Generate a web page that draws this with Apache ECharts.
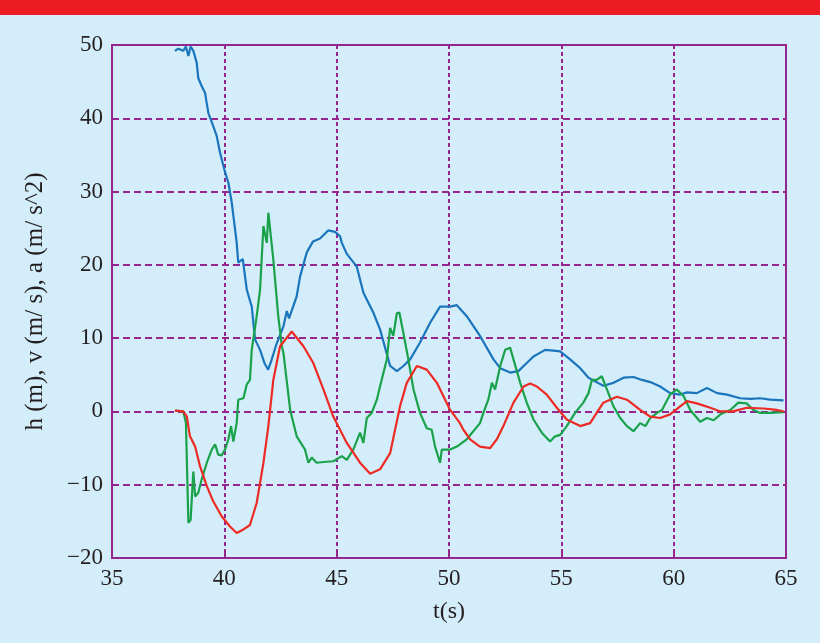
<!DOCTYPE html>
<html>
<head>
<meta charset="utf-8">
<title>h, v, a</title>
<script src="https://cdn.jsdelivr.net/npm/echarts@6/dist/echarts.min.js"></script>
<style>
  html, body { margin: 0; padding: 0; }
  #chart { width: 820px; height: 643px; }
</style>
</head>
<body>
<div id="chart"></div>
<script>
// height h (m)
var hTime = [37.80, 37.95, 38.17, 38.29, 38.40, 38.50, 38.62, 38.77, 38.84, 38.99, 39.14, 39.29, 39.51, 39.66, 39.81, 40.00, 40.18, 40.33, 40.48, 40.55, 40.62, 40.82, 41.00, 41.22, 41.37, 41.59, 41.80, 41.95, 42.10, 42.30, 42.63, 42.78, 42.88, 43.22, 43.37, 43.67, 43.95, 44.26, 44.62, 44.93, 45.15, 45.23, 45.45, 45.89, 46.19, 46.63, 46.93, 47.38, 47.68, 47.97, 48.27, 48.71, 49.16, 49.60, 50.05, 50.35, 50.79, 51.38, 51.98, 52.28, 52.72, 53.09, 53.46, 53.76, 54.28, 54.65, 54.95, 55.39, 55.84, 56.21, 56.50, 56.87, 57.32, 57.77, 58.21, 58.59, 58.96, 59.40, 59.84, 60.29, 60.59, 61.03, 61.48, 61.93, 62.37, 62.96, 63.41, 63.85, 64.30, 64.89]
var hValue = [49.2, 49.5, 49.2, 49.8, 48.5, 49.8, 49.2, 47.6, 45.5, 44.4, 43.5, 40.7, 38.9, 37.6, 35.3, 33.0, 31.2, 28.5, 24.8, 23.0, 20.3, 20.8, 16.6, 14.3, 9.8, 8.4, 6.5, 5.7, 7.0, 9.0, 11.6, 13.7, 12.7, 15.7, 18.4, 21.7, 23.2, 23.6, 24.7, 24.5, 23.9, 23.0, 21.5, 19.8, 16.2, 13.5, 11.2, 6.2, 5.5, 6.2, 7.1, 9.4, 12.1, 14.3, 14.3, 14.5, 13.0, 10.3, 7.1, 5.9, 5.3, 5.5, 6.6, 7.5, 8.4, 8.3, 8.2, 7.1, 5.9, 4.6, 4.1, 3.5, 3.9, 4.6, 4.7, 4.3, 4.0, 3.4, 2.5, 2.3, 2.6, 2.5, 3.2, 2.5, 2.3, 1.8, 1.7, 1.8, 1.6, 1.5]

// velocity v (m/s)
var vTime = [37.80, 38.17, 38.33, 38.47, 38.70, 38.92, 39.22, 39.51, 39.88, 40.25, 40.55, 40.85, 41.14, 41.44, 41.74, 41.96, 42.18, 42.48, 43.00, 43.52, 43.96, 44.41, 44.85, 45.45, 46.04, 46.49, 46.93, 47.38, 47.82, 48.12, 48.57, 49.01, 49.46, 50.05, 50.49, 50.64, 50.94, 51.24, 51.38, 51.83, 52.13, 52.42, 52.87, 53.32, 53.61, 53.91, 54.35, 54.80, 55.24, 55.84, 56.28, 56.87, 57.47, 57.92, 58.51, 58.96, 59.40, 59.84, 60.29, 60.59, 61.03, 61.63, 62.08, 62.64, 63.25, 64.00, 64.59, 64.89]
var vValue = [0.1, 0.0, -0.7, -3.4, -4.8, -7.5, -10.2, -12.3, -14.3, -15.7, -16.6, -16.1, -15.5, -12.5, -7.0, -2.0, 4.3, 8.9, 10.9, 8.9, 6.6, 3.0, -0.7, -4.3, -7.0, -8.5, -7.9, -5.7, 0.7, 3.9, 6.2, 5.7, 3.9, 0.2, -1.6, -2.5, -3.8, -4.5, -4.8, -5.0, -3.8, -2.0, 1.2, 3.4, 3.8, 3.4, 2.3, 0.5, -1.1, -2.0, -1.6, 1.2, 2.0, 1.6, 0.2, -0.7, -0.9, -0.4, 0.7, 1.4, 1.1, 0.5, 0.0, 0.0, 0.5, 0.4, 0.2, 0.0]

// acceleration a (m/s^2)
var aTime = [37.80, 38.17, 38.29, 38.40, 38.50, 38.62, 38.70, 38.84, 38.99, 39.22, 39.44, 39.59, 39.73, 39.88, 40.03, 40.18, 40.30, 40.40, 40.55, 40.62, 40.85, 41.00, 41.14, 41.22, 41.44, 41.59, 41.74, 41.89, 41.96, 42.18, 42.40, 42.56, 42.63, 42.93, 43.22, 43.59, 43.74, 43.89, 44.11, 44.41, 44.85, 45.23, 45.45, 45.74, 46.04, 46.19, 46.34, 46.56, 46.79, 46.93, 47.23, 47.38, 47.52, 47.68, 47.79, 47.97, 48.19, 48.42, 48.71, 49.01, 49.23, 49.38, 49.60, 49.68, 50.05, 50.35, 50.79, 51.38, 51.53, 51.75, 51.91, 52.05, 52.28, 52.50, 52.72, 52.87, 53.17, 53.46, 53.76, 54.13, 54.50, 54.72, 54.95, 55.24, 55.61, 55.98, 56.21, 56.36, 56.58, 56.80, 57.03, 57.32, 57.62, 57.92, 58.21, 58.51, 58.74, 58.96, 59.26, 59.48, 59.84, 60.14, 60.44, 60.74, 61.18, 61.48, 61.78, 62.08, 62.52, 62.88, 63.25, 63.55, 63.85, 64.30, 64.89]
var aValue = [0.1, 0.0, -1.5, -15.2, -14.8, -8.2, -11.6, -11.1, -9.3, -7.0, -5.2, -4.5, -5.9, -6.0, -5.2, -3.8, -2.0, -4.1, -1.6, 1.6, 1.8, 3.7, 4.3, 8.4, 13.0, 16.6, 25.3, 23.0, 27.1, 20.7, 13.0, 8.9, 8.0, 0.2, -3.4, -5.2, -7.0, -6.3, -7.0, -6.9, -6.8, -6.1, -6.6, -5.2, -2.9, -4.3, -0.9, -0.2, 1.6, 3.4, 7.1, 11.4, 10.3, 13.4, 13.5, 10.7, 7.1, 3.0, -0.2, -2.3, -2.5, -4.8, -7.0, -5.2, -5.2, -4.8, -3.8, -1.6, -0.2, 1.6, 3.9, 3.0, 6.2, 8.4, 8.7, 7.1, 3.9, 1.2, -1.1, -2.9, -4.1, -3.4, -3.2, -2.0, -0.2, 1.2, 2.5, 4.3, 4.3, 4.8, 3.0, 0.7, -0.9, -2.0, -2.7, -1.6, -2.0, -0.9, -0.2, 0.2, 2.3, 3.0, 2.1, 0.2, -1.4, -0.9, -1.2, -0.4, 0.2, 1.2, 1.1, 0.2, -0.2, -0.2, -0.1]

var purple = '#93278f'
var textColor = '#231f20'
var serif = '"Liberation Serif", "DejaVu Serif", serif'

function pairs(xs, ys) {
  return xs.map(function (x, i) { return [x, ys[i]] })
}

function lineSeries(name, data, color) {
  return {
    name: name,
    type: 'line',
    data: data,
    showSymbol: false,
    symbol: 'none',
    lineStyle: { color: color, width: 2.2 },
    itemStyle: { color: color },
    animation: false
  }
}

var chart = echarts.init(document.getElementById('chart'))
chart.setOption({
  backgroundColor: '#d3edfa',
  animation: false,
  graphic: [{
    type: 'rect',
    left: 0,
    top: 0,
    shape: { width: 820, height: 15 },
    style: { fill: '#ed1c24' }
  }],
  grid: {
    left: 112,
    top: 45,
    right: 34,
    bottom: 85,
    show: true,
    borderColor: purple,
    borderWidth: 2,
    backgroundColor: 'transparent'
  },
  xAxis: {
    type: 'value',
    min: 35,
    max: 65,
    interval: 5,
    name: 't(s)',
    nameLocation: 'middle',
    nameGap: 42,
    nameTextStyle: { color: textColor, fontFamily: serif, fontSize: 24 },
    axisLine: { onZero: false, lineStyle: { color: purple, width: 2 } },
    axisTick: { inside: true, length: 6, lineStyle: { color: purple, width: 2 } },
    axisLabel: { color: textColor, fontFamily: serif, fontSize: 23, margin: 9 },
    splitLine: { lineStyle: { color: purple, width: 2, type: [4, 3] } }
  },
  yAxis: {
    type: 'value',
    min: -20,
    max: 50,
    interval: 10,
    name: 'h (m), v (m/ s), a (m/ s^2)',
    nameLocation: 'middle',
    nameGap: 64,
    nameTextStyle: { color: textColor, fontFamily: serif, fontSize: 25 },
    axisLine: { lineStyle: { color: purple, width: 2 } },
    axisTick: { inside: true, length: 6, lineStyle: { color: purple, width: 2 } },
    axisLabel: {
      color: textColor,
      fontFamily: serif,
      fontSize: 23,
      margin: 9,
      formatter: function (v) { return String(v).replace('-', '\u2212') }
    },
    splitLine: { lineStyle: { color: purple, width: 2, type: [7, 4] } }
  },
  series: [
    lineSeries('h', pairs(hTime, hValue), '#1a75bc'),
    lineSeries('a', pairs(aTime, aValue), '#1aa24a'),
    lineSeries('v', pairs(vTime, vValue), '#ee2a24')
  ]
})
</script>
</body>
</html>
